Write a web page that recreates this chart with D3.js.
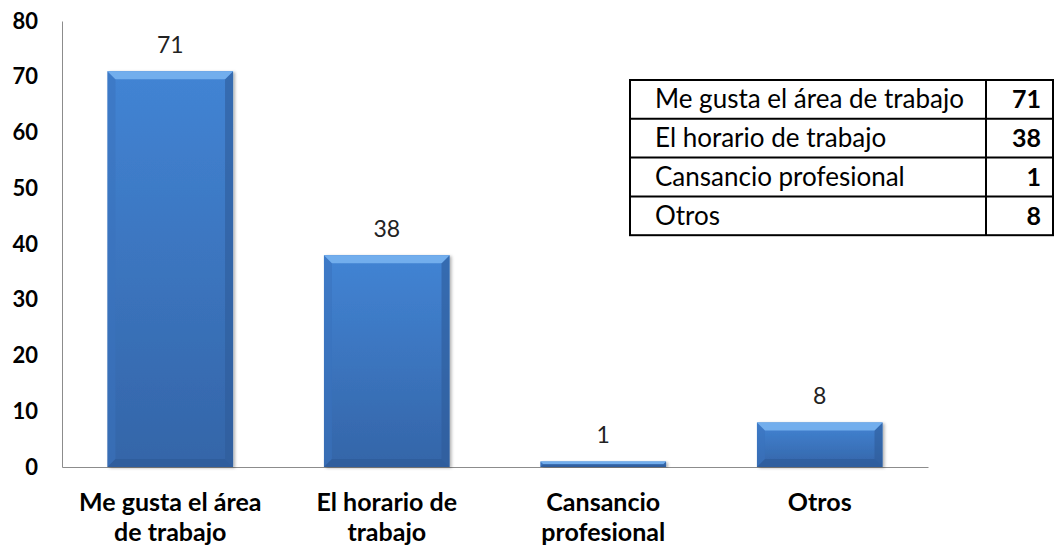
<!DOCTYPE html>
<html>
<head>
<meta charset="utf-8">
<script src="https://cdn.jsdelivr.net/npm/d3@7"></script>
<style>
  body { margin: 0; background: #fff; }
  text { font-family: Lato, "Open Sans", sans-serif; fill: #000; }
</style>
</head>
<body>
<div id="chart"></div>
<script>
// DATA
const CATEGORIES = [["Me gusta el área", "de trabajo"], ["El horario de", "trabajo"], ["Cansancio", "profesional"], ["Otros"]];
const VALUES = [71, 38, 1, 8];
const TABLE_LABELS = ["Me gusta el área de trabajo", "El horario de trabajo", "Cansancio profesional", "Otros"];
const Y_TICKS = [0, 10, 20, 30, 40, 50, 60, 70, 80];

const WIDTH = 1056;
const HEIGHT = 547;
const MARGIN = { top: 21, right: 128, bottom: 80, left: 62 };

const svg = d3.select("#chart").append("svg")
  .attr("width", WIDTH)
  .attr("height", HEIGHT);

const defs = svg.append("defs");
const grad = defs.append("linearGradient")
  .attr("id", "barFill")
  .attr("x1", 0).attr("y1", 0).attr("x2", 0).attr("y2", 1);
grad.append("stop").attr("offset", "0%").attr("stop-color", "#4284d4");
grad.append("stop").attr("offset", "100%").attr("stop-color", "#3465a8");

const shadow = defs.append("filter")
  .attr("id", "shadow")
  .attr("x", "-10%").attr("y", "-10%").attr("width", "125%").attr("height", "125%");
shadow.append("feDropShadow")
  .attr("dx", 2).attr("dy", 1).attr("stdDeviation", 1.5)
  .attr("flood-color", "#000").attr("flood-opacity", 0.3);

const x = d3.scaleBand()
  .domain(d3.range(VALUES.length))
  .range([MARGIN.left, WIDTH - MARGIN.right])
  .paddingInner(0.42)
  .paddingOuter(0.21);

const y = d3.scaleLinear()
  .domain([0, 80])
  .range([HEIGHT - MARGIN.bottom, MARGIN.top]);

// AXES
const yAxis = svg.append("g")
  .attr("transform", `translate(${MARGIN.left},0)`)
  .call(d3.axisLeft(y).tickValues(Y_TICKS).tickSize(0).tickPadding(24));
yAxis.select(".domain").attr("stroke", "#8c8c8c");
yAxis.selectAll("text")
  .style("font-size", "22px")
  .style("font-weight", "bold")
  .style("font-family", "Lato, sans-serif");

const xAxis = svg.append("g")
  .attr("transform", `translate(0,${y(0)})`)
  .call(d3.axisBottom(x).tickSize(0).tickFormat(""));
xAxis.select(".domain").attr("stroke", "#8c8c8c");

// category labels
svg.append("g").selectAll("text")
  .data(CATEGORIES)
  .join("text")
  .attr("x", (d, i) => x(i) + x.bandwidth() / 2)
  .attr("y", y(0) + 44)
  .attr("text-anchor", "middle")
  .style("font-size", "25px")
  .style("font-weight", "bold")
  .selectAll("tspan")
  .data(d => d)
  .join("tspan")
  .attr("x", function() { return this.parentNode.getAttribute("x"); })
  .attr("dy", (d, i) => i === 0 ? 0 : 30)
  .text(d => d);

// BARS with bevel
const BEVEL = 8;
const bars = svg.append("g").selectAll("g")
  .data(VALUES)
  .join("g");

bars.append("rect")
  .attr("x", (d, i) => x(i))
  .attr("y", d => y(d))
  .attr("width", x.bandwidth())
  .attr("height", d => y(0) - y(d))
  .attr("fill", "url(#barFill)")
  .attr("filter", "url(#shadow)");

function bevelPoly(d, i, side) {
  const x0 = x(i), x1 = x(i) + x.bandwidth();
  const y0 = y(d), y1 = y(0);
  const b = Math.min(BEVEL, (y1 - y0) / 2);
  if (side === "top") return [[x0, y0], [x1, y0], [x1 - b, y0 + b], [x0 + b, y0 + b]];
  if (side === "bottom") return [[x0, y1], [x1, y1], [x1 - b, y1 - b], [x0 + b, y1 - b]];
  if (side === "left") return [[x0, y0], [x0 + b, y0 + b], [x0 + b, y1 - b], [x0, y1]];
  return [[x1, y0], [x1 - b, y0 + b], [x1 - b, y1 - b], [x1, y1]];
}

const BEVEL_FILLS = { top: "#78b2f0", left: "#3a72bd", right: "#2f5c9a", bottom: "#2c5896" };
const BEVEL_OPACITY = { top: 0.9, left: 0.55, right: 0.6, bottom: 0.6 };
["left", "right", "top", "bottom"].forEach(side => {
  bars.append("polygon")
    .attr("points", (d, i) => bevelPoly(d, i, side).map(p => p.join(",")).join(" "))
    .attr("fill", BEVEL_FILLS[side])
    .attr("opacity", BEVEL_OPACITY[side]);
});

// value labels
svg.append("g").selectAll("text")
  .data(VALUES)
  .join("text")
  .attr("x", (d, i) => x(i) + x.bandwidth() / 2)
  .attr("y", d => y(d) - 18)
  .attr("text-anchor", "middle")
  .style("font-size", "23px")
  .style("fill", "#222")
  .text(d => d);

// DATA TABLE
const TABLE = { left: 630, right: 1053, divider: 986, top: 80, rowH: 38.8 };
const table = svg.append("g");
table.append("rect")
  .attr("x", TABLE.left)
  .attr("y", TABLE.top)
  .attr("width", TABLE.right - TABLE.left)
  .attr("height", TABLE.rowH * VALUES.length)
  .attr("fill", "none")
  .attr("stroke", "#000")
  .attr("stroke-width", 2);
table.append("line")
  .attr("x1", TABLE.divider).attr("x2", TABLE.divider)
  .attr("y1", TABLE.top).attr("y2", TABLE.top + TABLE.rowH * VALUES.length)
  .attr("stroke", "#000").attr("stroke-width", 2);
table.selectAll(".row-line")
  .data(d3.range(1, VALUES.length))
  .join("line")
  .attr("x1", TABLE.left).attr("x2", TABLE.right)
  .attr("y1", i => TABLE.top + i * TABLE.rowH)
  .attr("y2", i => TABLE.top + i * TABLE.rowH)
  .attr("stroke", "#000").attr("stroke-width", 2);
table.selectAll(".lbl")
  .data(TABLE_LABELS)
  .join("text")
  .attr("x", TABLE.left + 25)
  .attr("y", (d, i) => TABLE.top + i * TABLE.rowH + TABLE.rowH / 2 + 9)
  .style("font-size", "26px")
  .text(d => d);
table.selectAll(".val")
  .data(VALUES)
  .join("text")
  .attr("x", TABLE.right - 12)
  .attr("y", (d, i) => TABLE.top + i * TABLE.rowH + TABLE.rowH / 2 + 9)
  .attr("text-anchor", "end")
  .style("font-size", "25px")
  .style("font-weight", "bold")
  .text(d => d);
</script>
</body>
</html>
